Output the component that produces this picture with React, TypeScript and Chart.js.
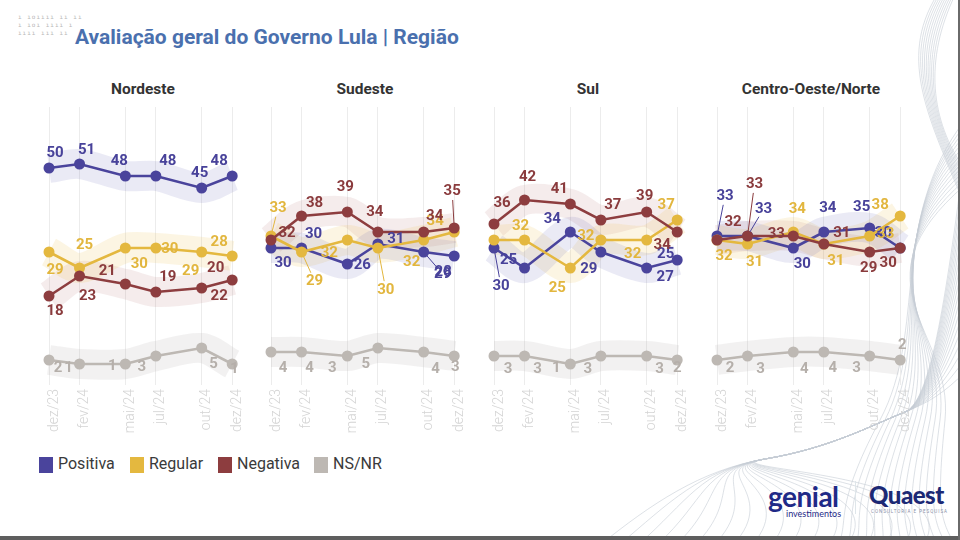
import React, { useEffect, useRef } from "react";
import { Chart, registerables } from "chart.js";

Chart.register(...registerables);

// ---------- data ----------
const MONTH_POS = [0, 2, 5, 7, 10, 12];
const TICK_LABELS = ["dez/23", "fev/24", "mai/24", "jul/24", "out/24", "dez/24"];
const REGIONS = ["Nordeste", "Sudeste", "Sul", "Centro-Oeste/Norte"];
const SERIES_NAMES = ["Positiva", "Regular", "Negativa", "NS/NR"];

const NORDESTE_POSITIVA = [50, 51, 48, 48, 45, 48];
const NORDESTE_REGULAR = [29, 25, 30, 30, 29, 28];
const NORDESTE_NEGATIVA = [18, 23, 21, 19, 20, 22];
const NORDESTE_NSNR = [2, 1, 1, 3, 5, 1];

const SUDESTE_POSITIVA = [30, 30, 26, 31, 29, 28];
const SUDESTE_REGULAR = [33, 29, 32, 30, 32, 34];
const SUDESTE_NEGATIVA = [32, 38, 39, 34, 34, 35];
const SUDESTE_NSNR = [4, 4, 3, 5, 4, 3];

const SUL_POSITIVA = [30, 25, 34, 29, 25, 27];
const SUL_REGULAR = [32, 32, 25, 32, 32, 37];
const SUL_NEGATIVA = [36, 42, 41, 37, 39, 34];
const SUL_NSNR = [3, 3, 1, 3, 3, 2];

const CON_POSITIVA = [33, 33, 30, 34, 35, 30];
const CON_REGULAR = [32, 31, 34, 31, 33, 38];
const CON_NEGATIVA = [32, 33, 33, 31, 29, 30];
const CON_NSNR = [2, 3, 4, 4, 3, 2];

const REGION_VALUES = [
  [NORDESTE_POSITIVA, NORDESTE_REGULAR, NORDESTE_NEGATIVA, NORDESTE_NSNR],
  [SUDESTE_POSITIVA, SUDESTE_REGULAR, SUDESTE_NEGATIVA, SUDESTE_NSNR],
  [SUL_POSITIVA, SUL_REGULAR, SUL_NEGATIVA, SUL_NSNR],
  [CON_POSITIVA, CON_REGULAR, CON_NEGATIVA, CON_NSNR],
];

// ---------- styles ----------
const COLORS = ["#4a449c", "#e4b83f", "#8d3d3f", "#bdb8b3"];
const LABEL_COLORS = ["#48429a", "#e2b63e", "#8a3b3d", "#b5afaa"];
const BAND_COLORS = [
  "rgba(95,90,175,0.13)",
  "rgba(236,195,80,0.16)",
  "rgba(160,80,80,0.11)",
  "rgba(185,180,175,0.18)",
];
const LINE_ORDER = [3, 2, 1, 4];
const PANEL_LEFT = [49, 271, 494, 717];
const PLOT_W = 188;
const PAD_X = 16;
const PAD_TOP = 7;
const PLOT_H = 278;
const AXIS_H = 52;
const PANEL_TOP = 100;

// label offsets (px, relative to each point); null = label hidden
const LABEL_OFFSETS = [
  [
    [[6, -15], [7, -14], [-6, -15], [12, -15], [-2, -15], [-13, -15]],
    [[6, 18], [5, -23], [14, 16], [14, 1], [-11, 19], [-13, -14]],
    [[6, 15], [8, 20], [-18, -13], [12, -15], [14, -20], [-13, 16]],
    [[9, 8], [-11, 4], [-13, 2], [-14, 11], [12, 16], [2, 5]],
  ],
  [
    [[12, 15], [12, -14], [15, 1], [18, -5], [19, 22], [-11, 16]],
    [[7, -28], [13, 29], [-18, 13], [8, 42], [-12, 22], [-19, -11]],
    [[16, -7], [13, -13], [-2, -25], [-3, -20], [11, -16], [-2, -37]],
    [[12, 16], [8, 16], [-15, 12], [-12, 16], [12, 17], [1, 11]],
  ],
  [
    [[7, 38], [-16, -8], [-18, -13], [-12, 17], [19, -14], [-12, 17]],
    [null, [-4, -14], [-13, 20], [-15, -4], [-14, 14], [-11, -15]],
    [[8, -21], [3, -23], [-11, -15], [12, -15], [-2, -16], [-15, 13]],
    [[14, 13], [13, 13], [-14, 4], [-13, 13], [13, 13], [0, 8]],
  ],
  [
    [[8, -40], [16, -27], [9, 16], [4, -24], [-8, -21], [-17, -15]],
    [[7, 16], [7, 18], [4, -23], [12, 17], [16, -2], [-20, -11]],
    [[16, -18], [7, -52], [-17, -2], [18, -11], [-1, 16], [-12, 15]],
    [[13, 8], [13, 13], [11, 17], [9, 16], [-13, 12], [2, -15]],
  ],
];

const FONT = "Roboto, 'Noto Sans', sans-serif";

const labelPlugin = {
  id: "pointLabels",
  afterDatasetsDraw(chart: any) {
    const ctx = chart.ctx;
    chart.data.datasets.forEach((ds: any, di: number) => {
      if (!ds.labelOffsets) return;
      const meta = chart.getDatasetMeta(di);
      meta.data.forEach((el: any, i: number) => {
        const off = ds.labelOffsets[i];
        if (!off) return;
        const [dx, dy] = off;
        const lx = el.x + dx;
        const ly = el.y + dy;
        const d = Math.hypot(dx, dy);
        ctx.save();
        if (d > 26) {
          const ux = dx / d;
          const uy = dy / d;
          ctx.strokeStyle = ds.labelColor;
          ctx.lineWidth = 1;
          ctx.beginPath();
          ctx.moveTo(el.x + ux * 5, el.y + uy * 5);
          ctx.lineTo(lx - ux * 9, ly - uy * 9);
          ctx.stroke();
        }
        ctx.font = `bold 15px ${FONT}`;
        ctx.fillStyle = ds.labelColor;
        ctx.textAlign = "center";
        ctx.textBaseline = "middle";
        ctx.fillText(String(ds.data[i].y), lx, ly);
        ctx.restore();
      });
    });
  },
};

function Panel({ index }: { index: number }) {
  const ref = useRef<HTMLCanvasElement | null>(null);
  useEffect(() => {
    if (!ref.current) return;
    const values = REGION_VALUES[index];
    const bands = values.map((vals, s) => ({
      label: SERIES_NAMES[s] + " faixa",
      data: MONTH_POS.map((m, i) => ({ x: m, y: vals[i] })),
      borderColor: BAND_COLORS[s],
      borderWidth: 30,
      borderCapStyle: "butt",
      borderJoinStyle: "round",
      pointRadius: 0,
      tension: 0.3,
      fill: false,
      order: 10 + s,
      clip: false,
    }));
    const lines = values.map((vals, s) => ({
      label: SERIES_NAMES[s],
      data: MONTH_POS.map((m, i) => ({ x: m, y: vals[i] })),
      borderColor: COLORS[s],
      backgroundColor: COLORS[s],
      pointBackgroundColor: COLORS[s],
      borderWidth: 2.6,
      pointRadius: 5.5,
      pointBorderWidth: 0,
      tension: 0,
      fill: false,
      order: LINE_ORDER[s],
      clip: false,
      labelOffsets: LABEL_OFFSETS[index][s],
      labelColor: LABEL_COLORS[s],
    }));
    const chart = new Chart(ref.current, {
      type: "line",
      data: { datasets: [...bands, ...lines] as any },
      options: {
        animation: false,
        responsive: false,
        maintainAspectRatio: false,
        layout: { padding: { left: PAD_X, right: PAD_X, top: PAD_TOP, bottom: 0 } },
        plugins: {
          legend: { display: false },
          title: { display: false },
          tooltip: { enabled: false },
        },
        scales: {
          x: {
            type: "linear",
            min: 0,
            max: 12,
            afterBuildTicks: (s: any) => {
              s.ticks = MONTH_POS.map((v) => ({ value: v }));
            },
            afterFit: (s: any) => {
              s.height = AXIS_H;
            },
            ticks: {
              autoSkip: false,
              minRotation: 90,
              maxRotation: 90,
              padding: 4,
              labelOffset: 5,
              color: "#d4d4d4",
              font: { family: FONT, size: 14, weight: "300" },
              callback: (v: any) => TICK_LABELS[MONTH_POS.indexOf(Number(v))] ?? "",
            },
            grid: { color: "#ececec", lineWidth: 1, drawTicks: false },
            border: { display: false },
          },
          y: {
            display: false,
            min: -4.25,
            max: 65.25,
          },
        },
      } as any,
      plugins: [labelPlugin],
    });
    return () => chart.destroy();
  }, [index]);

  const left = PANEL_LEFT[index];
  return (
    <>
      <div
        style={{
          position: "absolute",
          left: left,
          width: PLOT_W,
          top: 82,
          textAlign: "center",
          fontFamily: FONT,
          fontWeight: 700,
          fontSize: 15.5,
          lineHeight: "15px",
          color: "#333333",
          whiteSpace: "nowrap",
        }}
      >
        {REGIONS[index]}
      </div>
      <canvas
        ref={ref}
        width={PLOT_W + PAD_X * 2}
        height={PAD_TOP + PLOT_H + AXIS_H}
        style={{
          position: "absolute",
          left: left - PAD_X,
          top: PANEL_TOP,
          width: PLOT_W + PAD_X * 2,
          height: PAD_TOP + PLOT_H + AXIS_H,
        }}
      />
    </>
  );
}

function Waves() {
  const paths: string[] = [];
  for (let i = 0; i < 18; i++) {
    const x0 = 600 + i * 19;
    paths.push(
      `M ${x0} 545 C ${x0 + 50} ${505 - i * 2}, 700 470, 765 459 C 830 448, 870 426, 905 412 C 930 402, 945 ${392 - i * 5}, 965 ${372 - i * 13}`
    );
  }
  for (let i = 0; i < 14; i++) {
    paths.push(
      `M 965 ${120 + i * 5} C ${888 - i * 3} ${220 + i * 5}, ${928 + i * 2} 330, ${880 + i * 5} 420 S ${850 + i * 7} 520, ${838 + i * 9} 545`
    );
  }
  for (let i = 0; i < 10; i++) {
    paths.push(`M ${955 - i * 2} -5 C ${924 - i * 3} 60, 930 120, 965 ${170 + i * 4}`);
  }
  return (
    <svg
      width={960}
      height={540}
      style={{ position: "absolute", left: 0, top: 0 }}
    >
      {paths.map((d, i) => (
        <path key={i} d={d} fill="none" stroke="#c6ccd5" strokeWidth={0.6} />
      ))}
    </svg>
  );
}

export default function App() {
  useEffect(() => {
    document.body.style.margin = "0";
  }, []);
  const legendItems = [
    { x: 39, tx: 58 },
    { x: 130, tx: 149 },
    { x: 218, tx: 237 },
    { x: 314, tx: 333 },
  ];
  return (
    <div
      style={{
        position: "fixed",
        left: 0,
        top: 0,
        width: 960,
        height: 540,
        background: "#ffffff",
        overflow: "hidden",
        fontFamily: FONT,
      }}
    >
      <Waves />
      {/* small decorative marks */}
      <div
        style={{
          position: "absolute",
          left: 18,
          top: 13,
          fontSize: 6,
          lineHeight: "8px",
          color: "#b8b8b8",
          letterSpacing: 1,
          fontFamily: "DejaVu Sans Mono, monospace",
        }}
      >
        <div>ı ıoıııı ıı ıı</div>
        <div>ı ıoı ıııı ı</div>
        <div>ıııı ııı ıı</div>
      </div>
      <div
        style={{
          position: "absolute",
          left: 75,
          top: 27,
          fontSize: 21,
          lineHeight: "21px",
          fontWeight: 700,
          color: "#4a70ae",
          whiteSpace: "nowrap",
        }}
      >
        Avaliação geral do Governo Lula | Região
      </div>
      {REGIONS.map((_, i) => (
        <Panel key={i} index={i} />
      ))}
      {SERIES_NAMES.map((name, i) => (
        <React.Fragment key={name}>
          <div
            style={{
              position: "absolute",
              left: legendItems[i].x,
              top: 457,
              width: 14,
              height: 16,
              background: COLORS[i],
            }}
          />
          <div
            style={{
              position: "absolute",
              left: legendItems[i].tx,
              top: 456,
              fontSize: 16,
              lineHeight: "16px",
              color: "#3a3a3a",
              whiteSpace: "nowrap",
            }}
          >
            {name}
          </div>
        </React.Fragment>
      ))}
      {/* logos */}
      <div
        style={{
          position: "absolute",
          left: 768,
          top: 482,
          fontFamily: "Lato, sans-serif",
          fontWeight: 700,
          fontSize: 28,
          lineHeight: "28px",
          color: "#1f2a87",
          letterSpacing: -0.5,
        }}
      >
        genial
      </div>
      <div
        style={{
          position: "absolute",
          left: 786,
          top: 509,
          fontFamily: "Lato, sans-serif",
          fontSize: 9,
          lineHeight: "9px",
          color: "#1f2a87",
        }}
      >
        investimentos
      </div>
      <div
        style={{
          position: "absolute",
          left: 855,
          top: 481,
          width: 1,
          height: 33,
          background: "#dfe6ea",
        }}
      />
      <div
        style={{
          position: "absolute",
          left: 869,
          top: 483,
          fontFamily: "Lato, sans-serif",
          fontWeight: 900,
          fontSize: 24,
          lineHeight: "24px",
          color: "#1c2975",
          letterSpacing: -0.5,
        }}
      >
        Quaest
      </div>
      <div
        style={{
          position: "absolute",
          left: 871,
          top: 509,
          fontSize: 4.5,
          lineHeight: "5px",
          color: "#8a90a8",
          letterSpacing: 1,
          whiteSpace: "nowrap",
        }}
      >
        CONSULTORIA E PESQUISA
      </div>
      <div style={{ position: "absolute", left: 0, bottom: 0, width: 960, height: 4, background: "#5e5e5e" }} />
      <div style={{ position: "absolute", right: 0, top: 0, width: 2, height: 540, background: "#6a6a6a" }} />
    </div>
  );
}
